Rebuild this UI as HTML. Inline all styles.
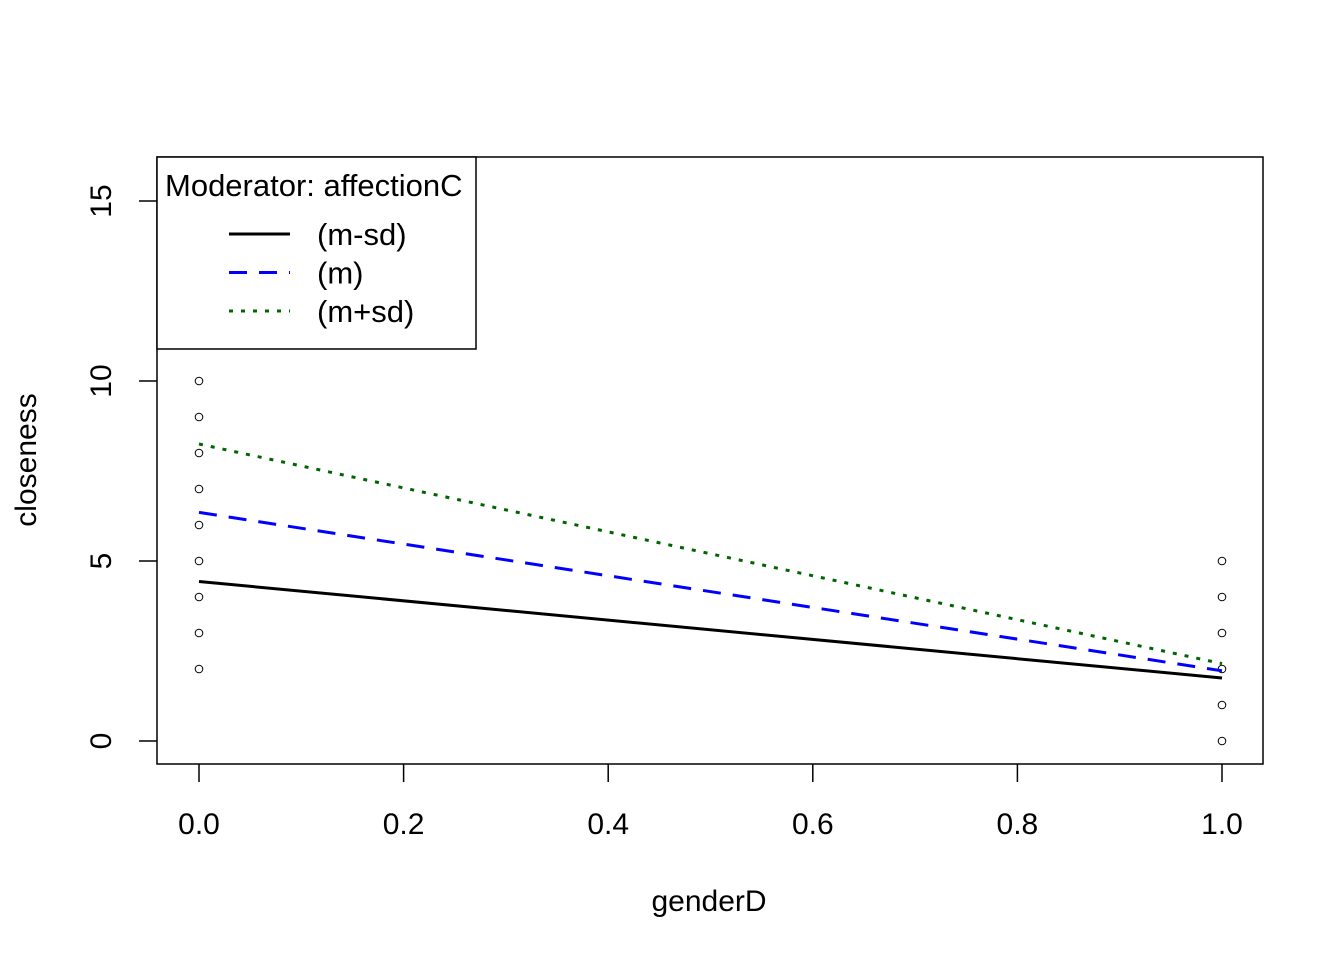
<!DOCTYPE html>
<html><head><meta charset="utf-8"><style>
body{margin:0;background:#fff}
svg text{font-family:"Liberation Sans",Arial,sans-serif;fill:#000}
</style></head><body>
<svg id="c" width="1344" height="960" xmlns="http://www.w3.org/2000/svg">
<rect x="0" y="0" width="1344" height="960" fill="#fff"/>
<g id="plot"></g>
</svg>
<script>
const xTicks=[0,0.2,0.4,0.6,0.8,1];
const xTickLabels=["0.0","0.2","0.4","0.6","0.8","1.0"];
const yTicks=[0,5,10,15];
const yTickLabels=["0","5","10","15"];
const seriesNames=["(m-sd)","(m)","(m+sd)"];
const lowVals=[4.43,1.75];
const midVals=[6.35,1.95];
const highVals=[8.25,2.15];
const lineX=[0,1];
const pointsX=[0,0,0,0,0,0,0,0,0,1,1,1,1,1,1];
const pointsY=[2,3,4,5,6,7,8,9,10,0,1,2,3,4,5];

const NS="http://www.w3.org/2000/svg";
const g=document.getElementById('plot');
const sx=v=>199+v*1023;
const sy=v=>741-v*36;
function mk(t,a,txt){const e=document.createElementNS(NS,t);for(const k in a)e.setAttribute(k,a[k]);if(txt!==undefined)e.textContent=txt;g.appendChild(e);return e;}

let e=mk('rect',{x:157,y:157,width:1106,height:607,fill:'none',stroke:'#000','stroke-width':1.5});



xTicks.forEach((v,i)=>{
  let t=mk('line',{x1:sx(v),x2:sx(v),y1:764,y2:782,stroke:'#000','stroke-width':1.5});
  
  
  let l=mk('text',{x:sx(v),y:834,'text-anchor':'middle','font-size':30},xTickLabels[i]);
  
  
});
yTicks.forEach((v,i)=>{
  let t=mk('line',{x1:139,x2:157,y1:sy(v),y2:sy(v),stroke:'#000','stroke-width':1.5});
  
  
  let l=mk('text',{x:0,y:0,'text-anchor':'middle','font-size':30,transform:`translate(111,${sy(v)}) rotate(-90)`},yTickLabels[i]);
  
  
});
let xl=mk('text',{x:709,y:911,'text-anchor':'middle','font-size':30},'genderD');


let yl=mk('text',{x:0,y:0,'text-anchor':'middle','font-size':30,transform:'translate(36,460) rotate(-90)'},'closeness');



pointsX.forEach((v,i)=>{
  let c=mk('circle',{cx:sx(v),cy:sy(pointsY[i]),r:3.8,fill:'none',stroke:'#000','stroke-width':1});
  
  
});

const styles=[{c:'#000',d:''},{c:'#0000ff',d:'18,12'},{c:'#006400',d:'4,8'}];
[lowVals,midVals,highVals].forEach((vals,s)=>{
  const pts=lineX.map((x,i)=>sx(x)+','+sy(vals[i])).join(' ');
  let p=mk('polyline',{points:pts,fill:'none',stroke:styles[s].c,'stroke-width':3,'stroke-dasharray':styles[s].d});
  
  
});

let lb=mk('rect',{x:157,y:157,width:319,height:192,fill:'#fff',stroke:'#000','stroke-width':1.5});


let lt=mk('text',{x:165,y:196,'font-size':31},'Moderator: affectionC');


seriesNames.forEach((n,s)=>{
  const y=234+s*38.5;
  let l=mk('line',{x1:229,x2:290,y1:y,y2:y,stroke:styles[s].c,'stroke-width':3,'stroke-dasharray':styles[s].d});
  
  
  let t=mk('text',{x:317,y:y+11,'font-size':31},n);
  
  
});
</script>
</body></html>
